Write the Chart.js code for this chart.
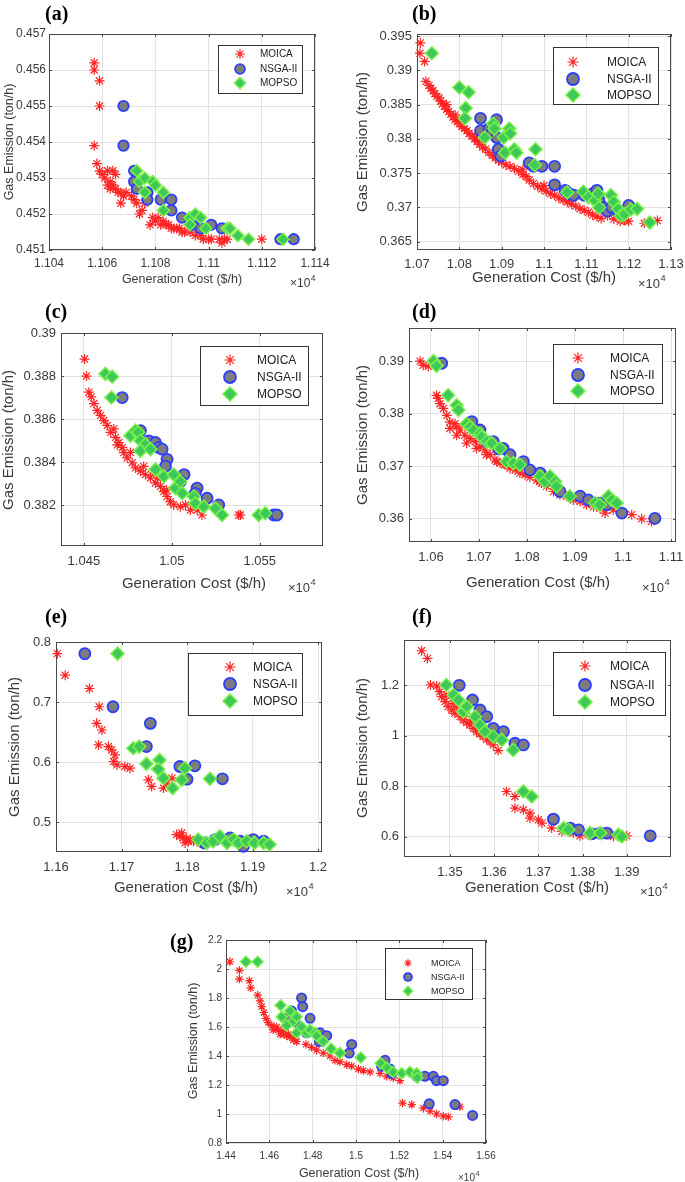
<!DOCTYPE html>
<html>
<head>
<meta charset="utf-8">
<script src="https://cdn.jsdelivr.net/npm/chart.js@4.4.1/dist/chart.umd.min.js"></script>
<style>
  html, body { margin: 0; padding: 0; background: #fff; }
  #page { position: relative; width: 685px; height: 1182px; overflow: hidden; }
  #page canvas { position: absolute; }
</style>
</head>
<body>
<div id="page"></div>
<script>
/* ─── Pareto fronts, 7 test cases: [generation cost (×10^4 $/h), gas emission (ton/h)] ─── */

const SERIES = ['MOICA', 'NSGA-II', 'MOPSO'];

// (a)
const xTicksA = [1.104, 1.106, 1.108, 1.11, 1.112, 1.114];
const yTicksA = [0.451, 0.452, 0.453, 0.454, 0.455, 0.456, 0.457];
const moicaA = [[1.1057,0.4562],[1.1057,0.4560],[1.1059,0.4557],[1.1059,0.4550],[1.1057,0.4539],
  [1.1058,0.4534],[1.1059,0.4532],[1.1060,0.4531],[1.1061,0.4530],[1.1062,0.4532],[1.1063,0.4529],
  [1.1064,0.4532],[1.1065,0.4531],[1.1062,0.4528],[1.1063,0.4527],[1.1064,0.4528],[1.1065,0.4527],
  [1.1066,0.4526],[1.1067,0.4526],[1.1068,0.4525],[1.1069,0.4526],[1.1067,0.4523],[1.1071,0.4525],
  [1.1072,0.4524],[1.1073,0.4523],[1.1074,0.4520],[1.1075,0.4521],[1.1076,0.4523],[1.1078,0.4517],
  [1.1079,0.4519],[1.1080,0.4518],[1.1081,0.4519],[1.1082,0.4517],[1.1083,0.4518],[1.1084,0.4517],
  [1.1085,0.4517],[1.1086,0.4516],[1.1087,0.4516],[1.1088,0.4516],[1.1089,0.4516],[1.1090,0.4515],
  [1.1091,0.4515],[1.1093,0.4515],[1.1095,0.4514],[1.1096,0.4515],[1.1097,0.4514],[1.1098,0.4513],
  [1.1100,0.4513],[1.1101,0.4513],[1.1104,0.4513],[1.1105,0.4512],[1.1106,0.4513],[1.1107,0.4513],
  [1.1120,0.4513]];
const nsgaA = [[1.1068,0.4550],[1.1068,0.4539],[1.1072,0.4532],[1.1072,0.4529],[1.1073,0.4527],
  [1.1077,0.4526],[1.1077,0.4524],[1.1082,0.4524],[1.1086,0.4524],[1.1086,0.4521],[1.1090,0.4519],
  [1.1094,0.4517],[1.1097,0.4516],[1.1101,0.4517],[1.1105,0.4516],[1.1127,0.4513],[1.1132,0.4513]];
const mopsoA = [[1.1073,0.4532],[1.1074,0.4529],[1.1076,0.4530],[1.1076,0.4526],[1.1079,0.4529],
  [1.1080,0.4528],[1.1083,0.4526],[1.1083,0.4521],[1.1093,0.4519],[1.1095,0.4520],[1.1093,0.4517],
  [1.1097,0.4519],[1.1099,0.4516],[1.1107,0.4516],[1.1108,0.4516],[1.1111,0.4514],[1.1115,0.4513],
  [1.1128,0.4513]];

// (b)
const xTicksB = [1.07, 1.08, 1.09, 1.1, 1.11, 1.12, 1.13];
const yTicksB = [0.365, 0.37, 0.375, 0.38, 0.385, 0.39, 0.395];
const moicaB = [[1.0708,0.3940],[1.0707,0.3925],[1.0718,0.3913],[1.0721,0.3884],[1.0728,0.3878],
  [1.0733,0.3874],[1.0738,0.3870],[1.0742,0.3866],[1.0747,0.3862],[1.0752,0.3860],[1.0756,0.3855],
  [1.0760,0.3851],[1.0765,0.3848],[1.0770,0.3843],[1.0775,0.3840],[1.0780,0.3836],[1.0785,0.3832],
  [1.0790,0.3828],[1.0795,0.3825],[1.0800,0.3822],[1.0806,0.3818],[1.0812,0.3815],[1.0818,0.3812],
  [1.0823,0.3808],[1.0830,0.3804],[1.0836,0.3800],[1.0842,0.3796],[1.0848,0.3792],[1.0855,0.3788],
  [1.0862,0.3785],[1.0870,0.3780],[1.0878,0.3776],[1.0885,0.3772],[1.0893,0.3769],[1.0900,0.3766],
  [1.0910,0.3762],[1.0920,0.3760],[1.0930,0.3757],[1.0940,0.3753],[1.0950,0.3748],[1.0958,0.3745],
  [1.0965,0.3740],[1.0975,0.3735],[1.0985,0.3731],[1.0995,0.3727],[1.1005,0.3724],[1.1015,0.3720],
  [1.1025,0.3718],[1.1035,0.3714],[1.1045,0.3711],[1.1055,0.3708],[1.1065,0.3705],[1.1075,0.3702],
  [1.1085,0.3698],[1.1095,0.3696],[1.1105,0.3693],[1.1115,0.3689],[1.1125,0.3687],[1.1135,0.3684],
  [1.1150,0.3688],[1.1165,0.3683],[1.1180,0.3680],[1.1190,0.3681],[1.1200,0.3680],[1.1237,0.3677],
  [1.1268,0.3681],[1.0770,0.3850],[1.0790,0.3835],[1.0840,0.3802],[1.0895,0.3775],[1.0950,0.3755],
  [1.1000,0.3732],[1.1060,0.3712]];
const nsgaB = [[1.0850,0.3830],[1.0850,0.3812],[1.0870,0.3815],[1.0878,0.3810],[1.0888,0.3828],
  [1.0888,0.3802],[1.0892,0.3785],[1.0898,0.3775],[1.0965,0.3765],[1.0975,0.3760],[1.0995,0.3760],
  [1.1025,0.3760],[1.1025,0.3733],[1.1050,0.3725],[1.1060,0.3720],[1.1070,0.3718],[1.1095,0.3718],
  [1.1115,0.3720],[1.1125,0.3725],[1.1130,0.3710],[1.1140,0.3700],[1.1150,0.3695],[1.1160,0.3700],
  [1.1175,0.3695],[1.1200,0.3703]];
const mopsoB = [[1.0735,0.3925],[1.0800,0.3875],[1.0822,0.3868],[1.0815,0.3845],[1.0813,0.3830],
  [1.0860,0.3802],[1.0880,0.3822],[1.0883,0.3815],[1.0905,0.3802],[1.0918,0.3815],[1.0920,0.3808],
  [1.0908,0.3780],[1.0930,0.3785],[1.0935,0.3780],[1.0980,0.3785],[1.0978,0.3762],[1.1055,0.3722],
  [1.1093,0.3723],[1.1105,0.3715],[1.1120,0.3710],[1.1128,0.3720],[1.1130,0.3700],[1.1158,0.3718],
  [1.1165,0.3708],[1.1175,0.3698],[1.1182,0.3688],[1.1190,0.3690],[1.1205,0.3697],[1.1220,0.3698],
  [1.1250,0.3678]];

// (c)
const xTicksC = [1.045, 1.05, 1.055];
const yTicksC = [0.382, 0.384, 0.386, 0.388, 0.39];
const moicaC = [[1.04504,0.38879],[1.04515,0.3880],[1.04528,0.38725],[1.04542,0.38703],[1.04557,0.38672],
  [1.04576,0.3864],[1.04595,0.38617],[1.04614,0.38593],[1.04633,0.3857],[1.0467,0.38554],[1.04652,0.38538],
  [1.0468,0.38515],[1.04699,0.38491],[1.04718,0.38468],[1.04727,0.38444],[1.04746,0.3842],[1.04775,0.38397],
  [1.04794,0.38373],[1.04822,0.38358],[1.0485,0.38342],[1.04879,0.38326],[1.04907,0.38303],[1.04936,0.38287],
  [1.04955,0.38263],[1.04973,0.3824],[1.04992,0.38216],[1.05011,0.38201],[1.05049,0.38193],[1.05078,0.38201],
  [1.05106,0.38177],[1.05144,0.38177],[1.05172,0.38154],[1.05381,0.38154],[1.0539,0.38154],
  [1.0469,0.3848],[1.04765,0.38445],[1.0484,0.3838],[1.049,0.3835],[1.0492,0.38326],[1.0497,0.3827]];
const nsgaC = [[1.04718,0.387],[1.04822,0.38546],[1.0487,0.38499],[1.04907,0.38491],[1.04926,0.38468],
  [1.04945,0.3846],[1.04973,0.38413],[1.04964,0.38381],[1.0507,0.38342],[1.05049,0.3831],[1.05144,0.38279],
  [1.05134,0.38255],[1.05201,0.38232],[1.05267,0.38201],[1.0558,0.38154],[1.05598,0.38154]];
const mopsoC = [[1.04623,0.3881],[1.04661,0.38797],[1.04657,0.387],[1.04765,0.38523],[1.04794,0.38546],
  [1.04809,0.38538],[1.04822,0.38499],[1.0485,0.38483],[1.04822,0.38452],[1.04879,0.3846],[1.04907,0.38366],
  [1.04955,0.38334],[1.05011,0.38342],[1.0502,0.38279],[1.05049,0.3831],[1.05059,0.38255],[1.05125,0.3824],
  [1.05134,0.38208],[1.05182,0.38193],[1.05248,0.38185],[1.05286,0.38154],[1.05494,0.38154],[1.05532,0.38162]];

// (d)
const xTicksD = [1.06, 1.07, 1.08, 1.09, 1.1, 1.11];
const yTicksD = [0.36, 0.37, 0.38, 0.39];
const moicaD = [[1.05775,0.39],[1.05838,0.3892],[1.05945,0.389],[1.06115,0.3835],[1.06151,0.3829],
  [1.06187,0.3819],[1.06259,0.3810],[1.0633,0.3797],[1.06393,0.3784],[1.065,0.3781],[1.06536,0.3775],
  [1.06608,0.3769],[1.06706,0.3759],[1.06814,0.3753],[1.06921,0.3747],[1.0702,0.3737],[1.07127,0.3731],
  [1.07235,0.3722],[1.07333,0.3712],[1.07441,0.3706],[1.07539,0.3703],[1.07647,0.3696],[1.07754,0.3693],
  [1.07853,0.3687],[1.0796,0.3684],[1.08059,0.3679],[1.08202,0.3674],[1.08301,0.3668],[1.08408,0.3662],
  [1.08552,0.3652],[1.08686,0.3646],[1.08829,0.3643],[1.08964,0.3636],[1.09107,0.3633],[1.09241,0.3627],
  [1.09385,0.3623],[1.09519,0.362],[1.09626,0.3611],[1.09797,0.3617],[1.0994,0.3614],[1.10182,0.3608],
  [1.10388,0.36],[1.10594,0.3595],[1.06393,0.3772],[1.06536,0.3759],[1.06742,0.3744],[1.06948,0.3734],
  [1.07154,0.3722],[1.07369,0.3709],[1.07575,0.3703],[1.08265,0.3671]];
const nsgaD = [[1.06223,0.3896],[1.0685,0.3785],[1.0702,0.3769],[1.07163,0.3747],[1.07298,0.3747],
  [1.07405,0.3733],[1.07504,0.3734],[1.07647,0.3722],[1.07925,0.3709],[1.08059,0.3693],[1.08274,0.3687],
  [1.08444,0.3674],[1.08686,0.3652],[1.09107,0.3643],[1.09277,0.3636],[1.09519,0.363],[1.09662,0.3627],
  [1.09976,0.3611],[1.10665,0.3601]];
const mopsoD = [[1.06053,0.39],[1.06115,0.3891],[1.06357,0.3835],[1.06536,0.3816],[1.06572,0.3807],
  [1.06742,0.3781],[1.06814,0.3775],[1.06886,0.3769],[1.0702,0.3762],[1.07056,0.3756],[1.07163,0.3747],
  [1.07262,0.3744],[1.07441,0.3734],[1.07575,0.3709],[1.07719,0.3706],[1.07853,0.3703],[1.08274,0.3681],
  [1.08372,0.3671],[1.0848,0.3681],[1.08587,0.3671],[1.08614,0.3662],[1.08892,0.3643],[1.0942,0.363],
  [1.09519,0.3627],[1.09698,0.3643],[1.0977,0.3636],[1.09868,0.363]];

// (e)
const xTicksE = [1.16, 1.17, 1.18, 1.19, 1.2];
const yTicksE = [0.5, 0.6, 0.7, 0.8];
const moicaE = [[1.1602,0.7806],[1.1614,0.7447],[1.1651,0.7225],[1.1666,0.6921],[1.1662,0.6644],
  [1.167,0.6533],[1.1665,0.6284],[1.168,0.6257],[1.1685,0.6201],[1.169,0.6118],[1.1688,0.6008],
  [1.1693,0.5952],[1.1705,0.5925],[1.1713,0.5897],[1.1741,0.5703],[1.1746,0.5593],[1.1764,0.5565],
  [1.1777,0.5731],[1.1769,0.5648],[1.1784,0.479],[1.1789,0.4763],[1.1794,0.4735],[1.1799,0.4719],
  [1.1805,0.4707],[1.181,0.4679],[1.1815,0.4679],[1.182,0.4652],[1.1792,0.4818],[1.1802,0.4679],
  [1.1797,0.4652],[1.1825,0.4624]];
const nsgaE = [[1.1644,0.7806],[1.1687,0.6921],[1.1744,0.6644],[1.1738,0.6257],[1.1789,0.5925],
  [1.1812,0.5936],[1.18,0.5714],[1.1854,0.572],[1.1866,0.4735],[1.1881,0.4679],[1.1901,0.4707],
  [1.1917,0.4679],[1.1886,0.4596],[1.1827,0.4652],[1.1843,0.4707]];
const mopsoE = [[1.1694,0.7806],[1.1718,0.6229],[1.1727,0.6257],[1.1738,0.5969],[1.1758,0.6035],
  [1.1756,0.5881],[1.1764,0.5731],[1.1778,0.5565],[1.1792,0.5703],[1.1797,0.5897],[1.1835,0.572],
  [1.1817,0.4707],[1.183,0.4652],[1.184,0.4679],[1.185,0.4763],[1.1861,0.4652],[1.1871,0.4707],
  [1.1878,0.4652],[1.1891,0.4679],[1.1903,0.4652],[1.1917,0.4652],[1.1926,0.4624]];

// (f)
const xTicksF = [1.35, 1.36, 1.37, 1.38, 1.39];
const yTicksF = [0.6, 0.8, 1, 1.2];
const moicaF = [[1.3436,1.3355],[1.3449,1.3053],[1.3456,1.2],[1.347,1.196],[1.3477,1.1737],
  [1.3481,1.1539],[1.3489,1.1342],[1.3496,1.1145],[1.3504,1.1013],[1.3511,1.0882],[1.3515,1.1145],
  [1.3523,1.075],[1.353,1.0618],[1.3538,1.0513],[1.3545,1.0421],[1.3553,1.0289],[1.356,1.0158],
  [1.3568,1.0066],[1.3575,0.9961],[1.3583,0.9855],[1.3591,0.9763],[1.3598,0.9632],[1.3609,0.9408],
  [1.3492,1.1605],[1.3508,1.1276],[1.3534,1.0882],[1.3549,1.0618],[1.3564,1.0355],[1.3579,1.0158],
  [1.3594,0.9961],[1.3628,0.7789],[1.3647,0.7592],[1.3647,0.7132],[1.3666,0.7066],[1.3681,0.6934],
  [1.3681,0.6737],[1.37,0.6671],[1.3708,0.6539],[1.373,0.6342],[1.3753,0.6211],[1.3779,0.6145],
  [1.3794,0.6039],[1.3813,0.6079],[1.384,0.6118],[1.387,0.6013],[1.39,0.6039]];
const nsgaF = [[1.3521,1.1987],[1.3551,1.1408],[1.3568,1.1013],[1.3583,1.075],[1.3598,1.0289],
  [1.3621,1.0158],[1.3647,0.9697],[1.3666,0.9632],[1.3734,0.6697],[1.3772,0.6342],[1.3791,0.6276],
  [1.384,0.6145],[1.3855,0.6145],[1.3953,0.6039],[1.3821,0.6118]];
const mopsoF = [[1.3492,1.2],[1.3508,1.1605],[1.3519,1.1408],[1.353,1.0947],[1.3538,1.1145],
  [1.3557,1.075],[1.3568,1.0421],[1.3579,1.0158],[1.3598,0.9961],[1.3617,0.9829],[1.3643,0.9434],
  [1.3666,0.7789],[1.3685,0.7592],[1.3757,0.6342],[1.3768,0.6276],[1.3817,0.6145],[1.384,0.6145],
  [1.3881,0.6079],[1.3889,0.6013]];

// (g)
const xTicksG = [1.44, 1.46, 1.48, 1.5, 1.52, 1.54, 1.56];
const yTicksG = [0.8, 1, 1.2, 1.4, 1.6, 1.8, 2, 2.2];
const moicaG = [[1.4418,2.05],[1.4462,1.99],[1.4462,1.93],[1.4508,1.92],[1.4514,1.87],[1.4546,1.82],
  [1.4557,1.78],[1.4565,1.74],[1.4575,1.70],[1.4585,1.66],[1.4595,1.63],[1.4611,1.61],[1.4626,1.59],
  [1.4642,1.58],[1.4657,1.57],[1.4668,1.55],[1.468,1.54],[1.4695,1.53],[1.4711,1.51],[1.4726,1.50],
  [1.4769,1.48],[1.4795,1.46],[1.4818,1.44],[1.4849,1.42],[1.488,1.40],[1.4903,1.37],[1.4926,1.36],
  [1.4957,1.34],[1.498,1.33],[1.5011,1.31],[1.5034,1.30],[1.5065,1.29],[1.5111,1.28],[1.5142,1.26],
  [1.5172,1.25],[1.5203,1.23],[1.5215,1.075],[1.5257,1.065],[1.5311,1.04],[1.5342,1.02],[1.5372,1.0],
  [1.5403,0.985],[1.5426,0.98],[1.548,1.05],[1.4618,1.58],[1.465,1.55],[1.4688,1.55],[1.4718,1.53],
  [1.4634,1.60]];
const nsgaG = [[1.4749,1.80],[1.4754,1.74],[1.4788,1.66],[1.4703,1.71],[1.468,1.66],[1.4718,1.64],
  [1.4742,1.59],[1.4772,1.56],[1.4834,1.56],[1.4865,1.54],[1.4831,1.50],[1.498,1.48],[1.4969,1.42],
  [1.5134,1.37],[1.5118,1.33],[1.5157,1.31],[1.5165,1.28],[1.528,1.26],[1.5318,1.26],[1.5357,1.26],
  [1.5372,1.23],[1.5403,1.23],[1.5338,1.07],[1.5457,1.065],[1.5538,0.99]];
const mopsoG = [[1.4492,2.05],[1.4546,2.05],[1.4652,1.75],[1.4657,1.67],[1.4695,1.71],[1.468,1.61],
  [1.4711,1.64],[1.4726,1.67],[1.4726,1.56],[1.4749,1.60],[1.4772,1.56],[1.4788,1.58],[1.4811,1.56],
  [1.4818,1.54],[1.4849,1.50],[1.4885,1.45],[1.4926,1.42],[1.5022,1.39],[1.5114,1.35],[1.5142,1.32],
  [1.5172,1.29],[1.5211,1.28],[1.5249,1.29],[1.528,1.28],[1.5283,1.25]];

/* ── Styles ─────────────────────────────────────────────────────────────── */
const FONT  = '"Liberation Sans", Arial, sans-serif';
const SERIF = '"Liberation Serif", "Times New Roman", serif';
const TXT   = '#3a3a3a';
const AXIS  = '#4a4a4a';
const GRID  = '#e2e2e2';
const MARK = [
  { style: 'star',    fill: '#ff2424', edge: '#ff2424', bw: 1.2 },
  { style: 'circle',  fill: '#7d7d7d', edge: '#2b3dff', bw: 1.8 },
  { style: 'rectRot', fill: '#3ec85a', edge: '#78f048', bw: 1.5 },
];

// page-pixel layout of each panel
const PANELS = [
  { tag: '(a)', sets: [moicaA, nsgaA, mopsoA], xt: xTicksA, yt: yTicksA,
    box: [0, 0, 342, 296], frame: [49, 34, 315, 250], xr: [1.104, 1.114], yr: [0.451, 0.457],
    tick: 12, xpad: 6, ypad: 3, tf: 12.5, rad: [5, 5.2, 6],
    leg: { box: [218, 45, 302, 93], rows: [54, 69, 83], mx: 240, tx: 260, font: 10, k: 0.85 },
    xTitle: [182, 280], yTitle: [10, 142], exp: [290, 284], lab: [45, 20] },
  { tag: '(b)', sets: [moicaB, nsgaB, mopsoB], xt: xTicksB, yt: yTicksB,
    box: [342, 0, 343, 296], frame: [417, 34, 671, 250], xr: [1.07, 1.13], yr: [0.3638, 0.3953],
    tick: 13, xpad: 7, ypad: 5, tf: 15, rad: [5, 5.5, 6.5],
    leg: { box: [553, 47, 658, 104], rows: [62, 79, 95], mx: 573, tx: 607, font: 12, k: 1 },
    xTitle: [544, 278], yTitle: [363, 142], exp: [638, 284], lab: [412, 20] },
  { tag: '(c)', sets: [moicaC, nsgaC, mopsoC], xt: xTicksC, yt: yTicksC,
    box: [0, 296, 342, 296], frame: [61, 333, 323, 546], xr: [1.0437, 1.0586], yr: [0.3801, 0.39],
    tick: 13, xpad: 8, ypad: 5, tf: 15, rad: [5, 5.5, 6.5],
    leg: { box: [200, 346, 308, 405], rows: [360, 377, 394], mx: 230, tx: 257, font: 12, k: 1 },
    xTitle: [194, 584], yTitle: [9, 440], exp: [288, 588], lab: [45, 318] },
  { tag: '(d)', sets: [moicaD, nsgaD, mopsoD], xt: xTicksD, yt: yTicksD,
    box: [342, 296, 343, 296], frame: [409, 328, 676, 542], xr: [1.05542, 1.11104], yr: [0.3556, 0.3963],
    tick: 13, xpad: 8, ypad: 5, tf: 15, rad: [5, 5.5, 6.5],
    leg: { box: [553, 344, 662, 403], rows: [358, 375, 391], mx: 578, tx: 610, font: 12, k: 1 },
    xTitle: [538, 583], yTitle: [363, 435], exp: [642, 588], lab: [412, 318] },
  { tag: '(e)', sets: [moicaE, nsgaE, mopsoE], xt: xTicksE, yt: yTicksE,
    box: [0, 592, 342, 306], frame: [56, 642, 322, 852], xr: [1.16, 1.2006], yr: [0.45, 0.8],
    tick: 13, xpad: 8, ypad: 5, tf: 15, rad: [5, 5.5, 6.5],
    leg: { box: [188, 653, 302, 715], rows: [667, 684, 701], mx: 230, tx: 253, font: 12, k: 1 },
    xTitle: [186, 888], yTitle: [15, 747], exp: [286, 892], lab: [45, 623] },
  { tag: '(f)', sets: [moicaF, nsgaF, mopsoF], xt: xTicksF, yt: yTicksF,
    box: [342, 592, 343, 306], frame: [404, 640, 671, 857], xr: [1.3396, 1.4], yr: [0.52, 1.378],
    tick: 13, xpad: 8, ypad: 5, tf: 15, rad: [5, 5.5, 6.5],
    leg: { box: [553, 652, 665, 715], rows: [666, 685, 702], mx: 585, tx: 610, font: 12, k: 1 },
    xTitle: [537, 888], yTitle: [363, 748], exp: [640, 892], lab: [412, 623] },
  { tag: '(g)', sets: [moicaG, nsgaG, mopsoG], xt: xTicksG, yt: yTicksG,
    box: [150, 898, 400, 284], frame: [226, 940, 486, 1143], xr: [1.44, 1.56], yr: [0.8, 2.2],
    tick: 10, xpad: 7, ypad: 4, tf: 12.5, rad: [4.2, 4.6, 5.5],
    leg: { box: [385, 948, 472, 999], rows: [963, 977, 991], mx: 408, tx: 431, font: 9, k: 0.75 },
    xTitle: [359, 1174], yTitle: [194, 1041], exp: [458, 1178], lab: [170, 948] },
];

const fmt = v => String(parseFloat(Number(v).toFixed(6)));

/* ── Decorations: box, inner ticks, titles, legend ──────────────────────── */
function decor(p) {
  const ox = p.box[0], oy = p.box[1];
  return {
    id: 'decor',
    beforeDatasetsDraw(chart) {
      const { ctx, chartArea: a, scales: { x, y } } = chart;
      ctx.save();
      ctx.strokeStyle = AXIS;
      ctx.lineWidth = 1;
      ctx.beginPath();
      p.xt.forEach(v => {
        const px = Math.round(x.getPixelForValue(v)) + 0.5;
        ctx.moveTo(px, a.bottom); ctx.lineTo(px, a.bottom - 3);
        ctx.moveTo(px, a.top); ctx.lineTo(px, a.top + 3);
      });
      p.yt.forEach(v => {
        const py = Math.round(y.getPixelForValue(v)) + 0.5;
        ctx.moveTo(a.left, py); ctx.lineTo(a.left + 3, py);
        ctx.moveTo(a.right, py); ctx.lineTo(a.right - 3, py);
      });
      ctx.stroke();
      ctx.strokeRect(a.left + 0.5, a.top + 0.5, a.width - 1, a.height - 1);
      ctx.restore();
    },
    afterDraw(chart) {
      const ctx = chart.ctx;
      ctx.save();
      ctx.fillStyle = TXT;
      ctx.textBaseline = 'middle';

      // axis titles
      ctx.font = p.tf + 'px ' + FONT;
      ctx.textAlign = 'center';
      ctx.fillText('Generation Cost ($/h)', p.xTitle[0] - ox, p.xTitle[1] - oy);
      ctx.save();
      ctx.translate(p.yTitle[0] - ox, p.yTitle[1] - oy);
      ctx.rotate(-Math.PI / 2);
      ctx.fillText('Gas Emission (ton/h)', 0, 0);
      ctx.restore();

      // ×10^4
      const ef = p.tick;
      ctx.textAlign = 'left';
      ctx.font = ef + 'px ' + FONT;
      const ex = p.exp[0] - ox, ey = p.exp[1] - oy;
      ctx.fillText('\u00d710', ex, ey);
      const w = ctx.measureText('\u00d710').width;
      ctx.font = (ef * 0.72) + 'px ' + FONT;
      ctx.fillText('4', ex + w + 0.5, ey - ef * 0.42);

      // panel tag
      ctx.fillStyle = '#000';
      ctx.textBaseline = 'alphabetic';
      ctx.font = 'bold 20px ' + SERIF;
      ctx.fillText(p.tag, p.lab[0] - ox, p.lab[1] - oy);

      // legend
      const L = p.leg;
      const [l, t, r, b] = L.box;
      ctx.fillStyle = '#fff';
      ctx.fillRect(l - ox, t - oy, r - l, b - t);
      ctx.strokeStyle = '#333';
      ctx.lineWidth = 1;
      ctx.strokeRect(l - ox + 0.5, t - oy + 0.5, r - l, b - t);
      ctx.textBaseline = 'middle';
      ctx.font = L.font + 'px ' + FONT;
      SERIES.forEach((name, i) => {
        const m = MARK[i], yy = L.rows[i] - oy, xx = L.mx - ox;
        ctx.fillStyle = m.fill;
        ctx.strokeStyle = m.edge;
        ctx.lineWidth = m.bw;
        Chart.helpers.drawPoint(ctx, { pointStyle: m.style, radius: p.rad[i] * L.k + 0.5, rotation: 0, borderWidth: m.bw }, xx, yy);
        ctx.fillStyle = '#222';
        ctx.fillText(name, L.tx - ox, yy + 0.5);
      });
      ctx.restore();
    },
  };
}

/* ── Build ──────────────────────────────────────────────────────────────── */
const page = document.getElementById('page');
const YW = 40, XH = 22;

PANELS.forEach(p => {
  const [bx, by, bw, bh] = p.box;
  const [fl, ft, fr, fb] = p.frame;
  const cv = document.createElement('canvas');
  cv.width = bw; cv.height = bh;
  cv.style.left = bx + 'px'; cv.style.top = by + 'px';
  cv.style.width = bw + 'px'; cv.style.height = bh + 'px';
  page.appendChild(cv);

  const tickFont = { family: FONT, size: p.tick };

  new Chart(cv, {
    type: 'scatter',
    data: {
      datasets: SERIES.map((name, i) => ({
        label: name,
        data: p.sets[i].map(([x, y]) => ({ x, y })),
        pointStyle: MARK[i].style,
        pointRadius: p.rad[i],
        pointBackgroundColor: MARK[i].fill,
        pointBorderColor: MARK[i].edge,
        pointBorderWidth: MARK[i].bw,
        order: 3 - i,
        clip: false,
      })),
    },
    options: {
      responsive: false, animation: false, devicePixelRatio: 1,
      events: [],
      layout: { padding: { left: fl - bx - YW, top: ft - by, right: bx + bw - fr, bottom: by + bh - fb - XH } },
      plugins: { legend: { display: false }, tooltip: { enabled: false } },
      scales: {
        x: {
          type: 'linear', min: p.xr[0], max: p.xr[1],
          afterBuildTicks: s => { s.ticks = p.xt.map(v => ({ value: v })); },
          afterFit: s => { s.height = XH; s.paddingLeft = 0; s.paddingRight = 0; },
          grid: { color: GRID, drawTicks: false },
          border: { display: false },
          ticks: { padding: p.xpad, color: TXT, font: tickFont, maxRotation: 0, autoSkip: false, callback: fmt },
        },
        y: {
          type: 'linear', min: p.yr[0], max: p.yr[1],
          afterBuildTicks: s => { s.ticks = p.yt.map(v => ({ value: v })); },
          afterFit: s => { s.width = YW; s.paddingTop = 0; s.paddingBottom = 0; },
          grid: { color: GRID, drawTicks: false },
          border: { display: false },
          ticks: { padding: p.ypad, color: TXT, font: tickFont, autoSkip: false, callback: fmt },
        },
      },
    },
    plugins: [decor(p)],
  });
});
</script>
</body>
</html>
